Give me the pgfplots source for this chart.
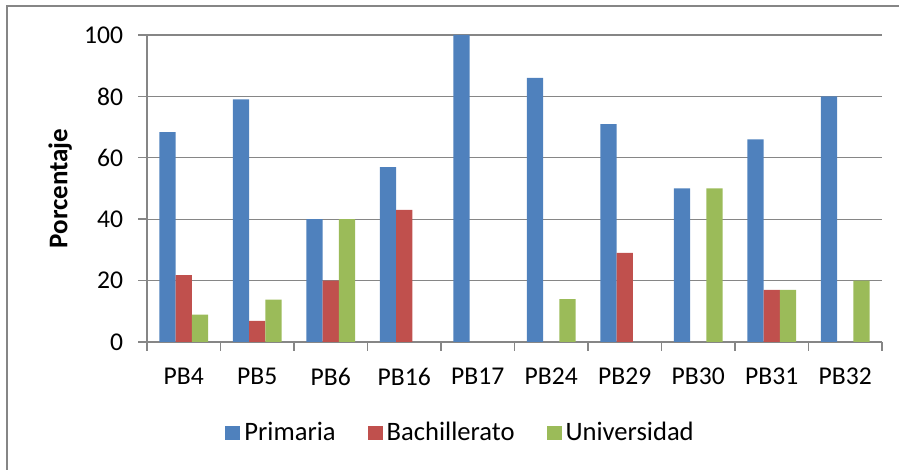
\documentclass[border=0pt]{standalone}
\usepackage{fontspec}
\setmainfont{Carlito}
\usepackage{pgfplots}
\pgfplotsset{compat=1.18}
\definecolor{primaria}{HTML}{4F81BD}
\definecolor{bachi}{HTML}{C0504D}
\definecolor{univ}{HTML}{9BBB59}
\definecolor{axisgray}{HTML}{868686}

\begin{document}
\fontsize{13}{15}\selectfont
\begin{tikzpicture}
\useasboundingbox (0,0) rectangle (449.5pt,235pt);
\draw[axisgray,line width=0.6pt] (3.5pt,0) -- (3.5pt,232pt) -- (449.5pt,232pt);
\begin{axis}[at={(73.5pt,64pt)},anchor=south west,scale only axis,
  width=367.5pt,height=153.5pt,
  ybar=0pt,bar width=8.15pt,
  xmin=-0.5,xmax=9.5,ymin=0,ymax=100,
  ytick={0,20,...,100},
  xtick={-0.5,0.5,...,9.5},xticklabels={},
  extra x ticks={0,1,...,9},
  extra x tick labels={PB4,PB5,PB6,PB16,PB17,PB24,PB29,PB30,PB31,PB32},
  extra x tick style={tick style={draw=none}},
  axis x line*=bottom,axis y line*=left,
  axis line style={axisgray,line width=0.7pt},
  tick style={axisgray,line width=0.7pt},
  tick align=outside,major tick length=4.4pt,
  ymajorgrids,grid style={axisgray,line width=0.6pt},
  /pgf/number format/assume math mode=true,
  tick label style={font=\fontsize{12.8}{15}\selectfont,text=black},
  yticklabel style={xshift=-3pt},
  xticklabel style={yshift=-4pt},
  ylabel={\fontsize{13.5}{15}\selectfont\bfseries Porcentaje},
  ylabel style={at={(axis description cs:-0.118,0.5)},anchor=center},
  legend columns=3,
  legend style={at={(0.428,-0.2974)},anchor=center,draw=none,
    font=\fontsize{13.3}{15}\selectfont,
    /tikz/every even column/.append style={column sep=14pt}},
  legend image code/.code={\fill[#1] (-0.5pt,-3.4pt) rectangle (7pt,3.6pt);},
]
\addplot[fill=primaria,draw=none] coordinates {(0,68.4)(1,79)(2,40)(3,57)(4,100)(5,86)(6,71)(7,50)(8,66)(9,80)};
\addplot[fill=bachi,draw=none] coordinates {(0,21.8)(1,6.9)(2,20)(3,43)(6,29)(8,17)};
\addplot[fill=univ,draw=none] coordinates {(0,8.9)(1,13.8)(2,40)(5,14)(7,50)(8,17)(9,20)};
\legend{Primaria,Bachillerato,Universidad}
\end{axis}
\end{tikzpicture}
\end{document}
